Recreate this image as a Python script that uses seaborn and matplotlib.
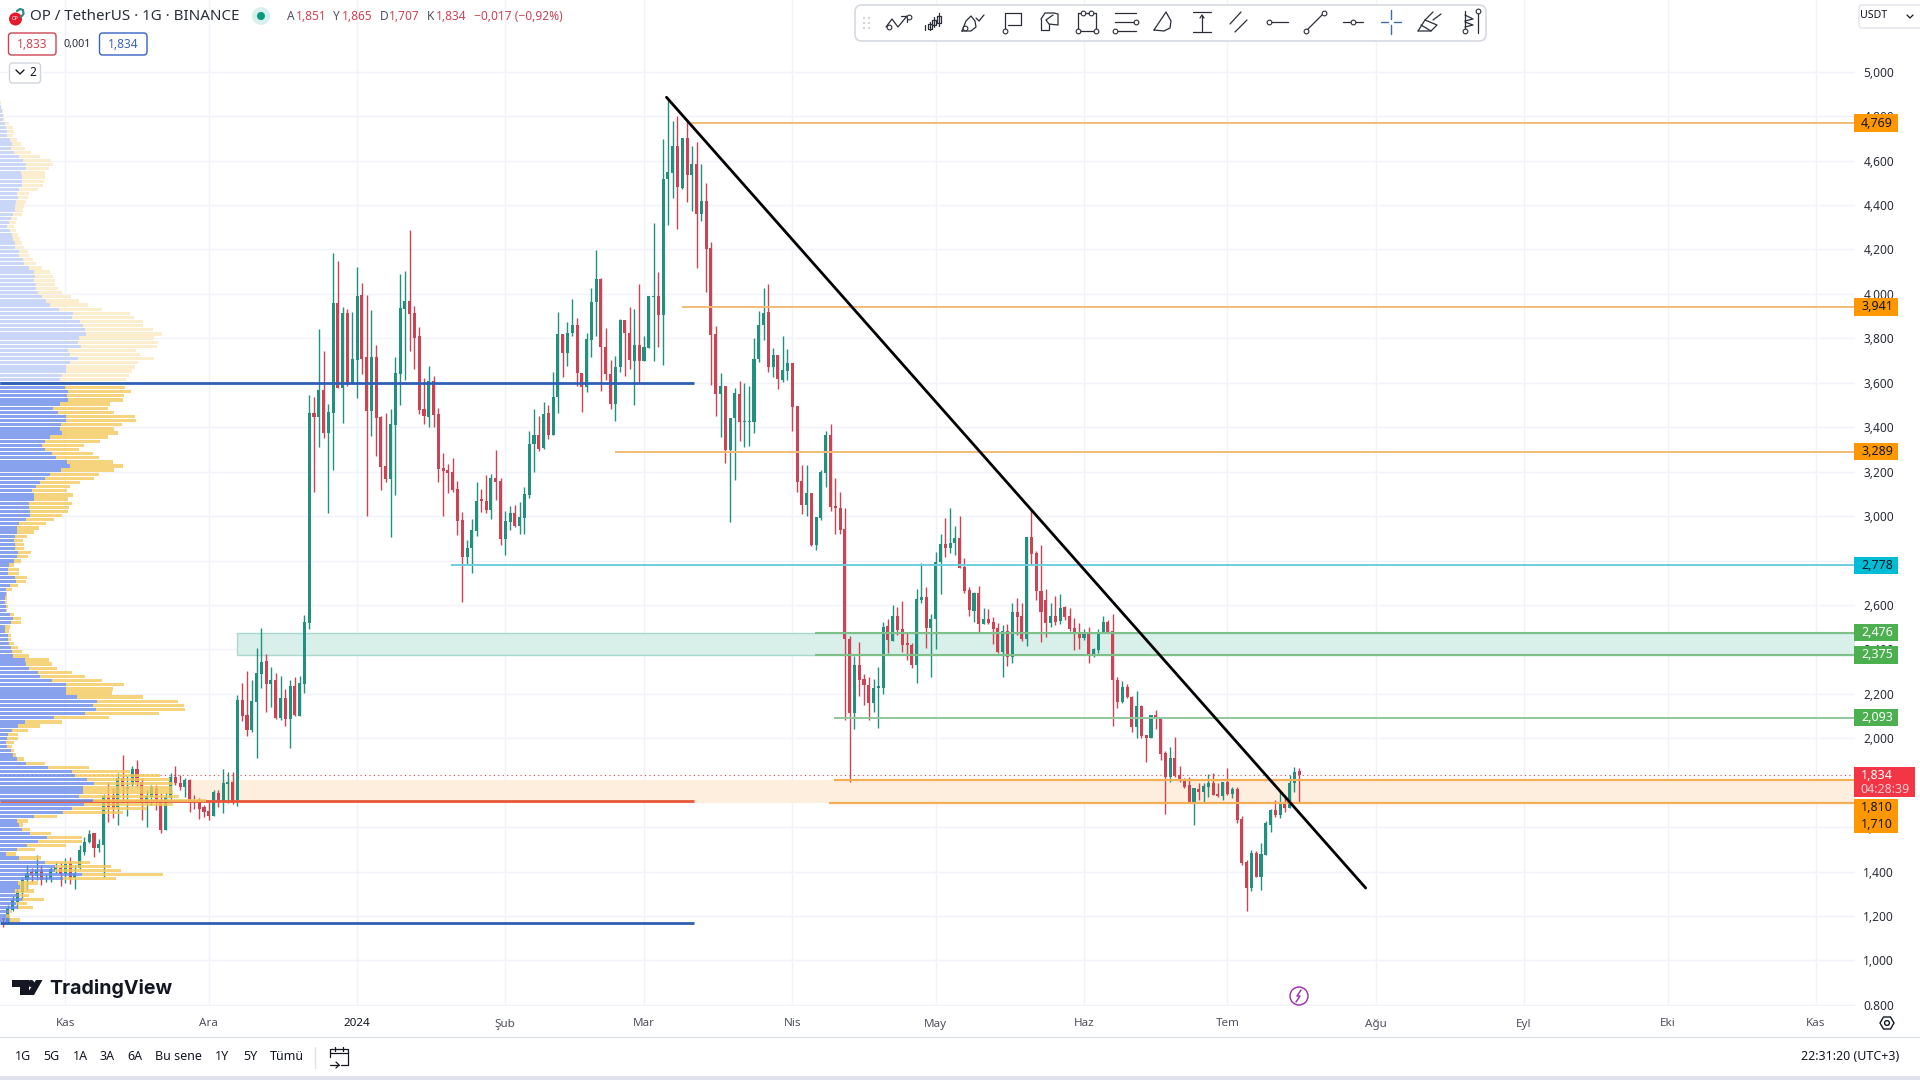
import numpy as np
import pandas as pd
import seaborn as sns
import matplotlib.pyplot as plt
from matplotlib.patches import Rectangle, FancyBboxPatch, Circle, Polygon

# daily candles, day 0 = 1 Nov 2023
days = np.arange(-13, 259)
opens = [
    1.19,1.175,1.227,1.265,1.31,1.36,1.40,1.38,1.408,1.365,
    1.365,1.405,1.415,1.39,1.437,1.37,1.415,1.49,1.532,1.572,
    1.505,1.52,1.737,1.745,1.692,1.82,1.77,1.79,1.86,1.805,
    1.707,1.737,1.775,1.715,1.585,1.73,1.825,1.80,1.78,1.813,
    1.72,1.715,1.69,1.673,1.65,1.755,1.715,1.795,1.805,1.72,
    2.172,2.105,2.037,2.165,2.29,2.348,2.245,2.262,2.09,2.18,
    2.085,2.235,2.102,2.245,2.52,3.465,3.447,3.567,3.372,3.465,
    3.957,3.578,3.912,3.597,3.702,3.995,3.714,3.474,3.717,3.447,
    3.225,3.167,3.41,3.64,3.932,3.968,3.912,3.81,3.482,3.447,
    3.608,3.458,3.215,3.207,3.198,3.12,2.983,2.818,2.855,2.934,
    3.072,3.068,3.027,3.173,3.158,2.897,2.975,3.012,2.955,2.993,
    3.095,3.323,3.365,3.305,3.465,3.365,3.534,3.82,3.732,3.823,
    3.858,3.642,3.58,3.793,3.962,4.065,3.762,3.64,3.505,3.67,
    3.882,3.822,3.70,3.77,3.70,3.755,3.986,3.99,3.905,4.515,
    4.545,4.665,4.478,4.70,4.535,4.585,4.36,4.418,4.205,3.82,
    3.55,3.585,3.297,3.44,3.55,3.424,3.424,3.425,3.705,3.858,
    3.917,3.67,3.725,3.612,3.654,3.69,3.495,3.16,3.05,3.102,
    2.87,2.99,3.195,3.365,3.045,3.035,2.94,2.445,2.115,2.33,
    2.265,2.24,2.16,2.228,2.225,2.505,2.44,2.55,2.49,2.427,
    2.42,2.33,2.622,2.637,2.495,2.535,2.795,2.873,2.858,2.877,
    2.90,2.77,2.667,2.575,2.652,2.514,2.535,2.522,2.495,2.39,
    2.483,2.367,2.567,2.55,2.445,2.904,2.835,2.664,2.622,2.52,
    2.55,2.528,2.59,2.55,2.495,2.475,2.453,2.475,2.375,2.397,
    2.475,2.525,2.483,2.262,2.162,2.23,2.187,2.052,2.147,2.015,
    2.003,2.105,2.094,1.935,1.827,1.91,1.835,1.812,1.79,1.71,
    1.77,1.758,1.78,1.80,1.75,1.738,1.805,1.75,1.77,1.635,
    1.442,1.326,1.485,1.377,1.475,1.61,1.677,1.655,1.71,1.685,1.797,1.851,
]
highs = [
    1.19,1.25,1.29,1.325,1.377,1.43,1.415,1.475,1.43,1.39,
    1.422,1.445,1.445,1.46,1.467,1.43,1.52,1.557,1.585,1.572,
    1.547,1.75,1.805,1.775,1.842,1.925,1.83,1.875,1.90,1.82,
    1.767,1.79,1.79,1.752,1.755,1.845,1.875,1.835,1.82,1.817,
    1.745,1.73,1.70,1.715,1.765,1.767,1.86,1.85,1.85,2.195,
    2.247,2.303,2.26,2.405,2.495,2.38,2.322,2.292,2.28,2.222,
    2.262,2.275,2.28,2.555,3.545,3.537,3.84,3.743,3.505,4.183,
    4.148,3.943,3.93,3.917,4.122,4.048,3.995,3.927,3.768,3.45,
    3.462,3.48,3.714,4.088,4.103,4.288,3.946,3.85,3.62,3.675,
    3.63,3.485,3.283,3.233,3.262,3.158,3.017,2.893,2.985,3.155,
    3.12,3.185,3.19,3.297,3.173,3.025,3.045,3.05,3.062,3.13,
    3.383,3.48,3.45,3.515,3.50,3.65,3.917,3.82,3.872,3.975,
    3.893,3.642,3.823,4.025,4.197,4.073,3.845,3.702,3.72,3.887,
    3.882,3.94,3.93,4.043,3.812,3.99,4.32,4.10,4.695,4.872,
    4.778,4.80,4.70,4.778,4.665,4.685,4.585,4.498,4.235,3.856,
    3.642,3.585,3.44,3.575,3.608,3.597,3.585,3.80,3.925,4.025,
    4.043,3.755,3.725,3.81,3.75,3.69,3.495,3.23,3.23,3.102,
    2.997,3.207,3.385,3.413,3.17,3.11,3.035,2.46,2.368,2.435,
    2.29,2.275,2.265,2.32,2.525,2.535,2.60,2.592,2.62,2.472,
    2.43,2.67,2.787,2.68,2.558,2.84,2.918,2.99,3.038,2.955,
    3.0,2.81,2.68,2.66,2.685,2.585,2.58,2.547,2.517,2.51,
    2.513,2.607,2.63,2.607,2.907,3.027,2.844,2.87,2.67,2.607,
    2.64,2.65,2.595,2.588,2.54,2.517,2.49,2.50,2.405,2.49,
    2.55,2.532,2.558,2.277,2.258,2.244,2.19,2.213,2.15,2.015,
    2.105,2.127,2.097,1.943,1.96,2.004,1.875,1.82,1.824,1.775,
    1.797,1.797,1.838,1.842,1.797,1.805,1.865,1.782,1.78,1.65,
    1.452,1.497,1.493,1.527,1.628,1.68,1.722,1.76,1.745,1.835,1.87,1.865,
]
lows = [
    1.152,1.168,1.224,1.235,1.272,1.317,1.355,1.362,1.34,1.355,
    1.355,1.392,1.337,1.347,1.343,1.32,1.41,1.475,1.527,1.467,
    1.49,1.377,1.625,1.64,1.61,1.707,1.65,1.785,1.782,1.632,
    1.602,1.70,1.677,1.572,1.585,1.722,1.79,1.765,1.737,1.67,
    1.68,1.638,1.647,1.63,1.65,1.692,1.665,1.707,1.703,1.695,
    2.078,2.012,2.03,1.913,2.228,2.118,2.142,2.087,2.082,2.055,
    1.955,2.10,2.10,2.205,2.49,3.11,3.312,3.353,3.012,3.207,
    3.575,3.42,3.587,3.594,3.533,3.64,3.002,3.36,3.27,3.117,
    3.155,2.907,3.095,3.50,3.612,3.743,3.662,3.46,3.414,3.402,
    3.402,3.155,3.002,3.105,3.11,2.915,2.615,2.783,2.745,2.91,
    3.02,3.012,2.987,3.072,2.87,2.825,2.937,2.952,2.92,2.92,
    3.083,3.20,3.295,3.30,3.345,3.365,3.462,3.627,3.677,3.81,
    3.585,3.467,3.557,3.717,3.81,3.565,3.612,3.482,3.43,3.65,
    3.63,3.66,3.50,3.605,3.70,3.755,3.70,3.762,3.68,4.31,
    4.43,4.292,4.472,4.415,4.375,4.118,4.33,4.01,3.59,3.45,
    3.357,3.24,2.975,3.162,3.34,3.31,3.315,3.372,3.695,3.792,
    3.65,3.625,3.57,3.605,3.612,3.385,3.11,3.01,3.0,2.865,
    2.847,2.982,3.132,3.025,2.92,2.92,2.082,1.805,2.04,2.19,
    2.15,2.08,2.12,2.045,2.20,2.382,2.44,2.465,2.39,2.35,
    2.315,2.247,2.607,2.405,2.277,2.40,2.65,2.815,2.832,2.825,
    2.765,2.655,2.55,2.525,2.48,2.514,2.514,2.424,2.385,2.277,
    2.325,2.34,2.465,2.44,2.417,2.78,2.622,2.435,2.457,2.50,
    2.51,2.515,2.532,2.484,2.397,2.40,2.442,2.34,2.365,2.385,
    2.475,2.475,2.057,2.138,2.16,2.18,2.03,2.003,2.003,1.895,
    2.0,2.04,1.90,1.66,1.805,1.827,1.805,1.778,1.707,1.61,
    1.722,1.71,1.735,1.745,1.735,1.722,1.745,1.73,1.617,1.43,
    1.224,1.314,1.374,1.317,1.475,1.58,1.644,1.64,1.67,1.685,1.76,1.707,
]
closes = [
    1.18,1.235,1.272,1.314,1.362,1.395,1.385,1.408,1.362,1.37,
    1.41,1.42,1.39,1.435,1.37,1.392,1.497,1.535,1.57,1.505,
    1.525,1.74,1.692,1.688,1.82,1.785,1.78,1.86,1.805,1.707,
    1.74,1.782,1.715,1.587,1.735,1.825,1.80,1.782,1.81,1.722,
    1.71,1.683,1.67,1.65,1.76,1.715,1.80,1.805,1.707,2.172,
    2.102,2.037,2.168,2.292,2.345,2.245,2.262,2.09,2.18,2.085,
    2.235,2.105,2.25,2.522,3.465,3.447,3.567,3.372,3.467,3.957,
    3.575,3.912,3.597,3.705,3.99,3.707,3.474,3.717,3.443,3.222,
    3.167,3.414,3.642,3.935,3.968,3.91,3.803,3.477,3.45,3.608,
    3.455,3.213,3.205,3.195,3.117,2.98,2.818,2.855,2.937,3.068,
    3.07,3.027,3.173,3.155,2.897,2.978,3.012,2.955,2.994,3.10,
    3.325,3.365,3.30,3.459,3.365,3.534,3.82,3.732,3.823,3.858,
    3.642,3.58,3.795,3.962,4.065,3.762,3.64,3.505,3.67,3.882,
    3.822,3.702,3.77,3.70,3.762,3.99,3.988,3.905,4.517,4.55,
    4.665,4.482,4.70,4.535,4.585,4.36,4.418,4.202,3.815,3.55,
    3.585,3.297,3.44,3.555,3.425,3.427,3.427,3.705,3.858,3.912,
    3.67,3.725,3.615,3.657,3.687,3.492,3.155,3.05,3.102,2.87,
    2.995,3.197,3.365,3.042,3.035,2.937,2.445,2.115,2.33,2.262,
    2.24,2.16,2.225,2.23,2.50,2.442,2.55,2.487,2.42,2.42,
    2.33,2.627,2.634,2.495,2.535,2.795,2.873,2.858,2.877,2.90,
    2.765,2.664,2.577,2.652,2.514,2.535,2.517,2.49,2.39,2.483,
    2.367,2.567,2.545,2.445,2.904,2.83,2.664,2.57,2.52,2.55,
    2.525,2.585,2.547,2.49,2.475,2.453,2.475,2.375,2.402,2.48,
    2.522,2.48,2.26,2.165,2.23,2.184,2.052,2.145,2.01,2.003,
    2.105,2.09,1.93,1.827,1.91,1.83,1.81,1.782,1.71,1.775,
    1.758,1.785,1.80,1.745,1.738,1.805,1.75,1.77,1.632,1.437,
    1.326,1.482,1.377,1.48,1.62,1.677,1.655,1.707,1.685,1.797,1.848,1.834,
]

# volume profile rows, top to bottom (up volume and total volume)
vp_up = [
    0,2,7,8,10,15,18,20,22,30,36,34,42,58,70,78,78,63,66,66,66,57,52,54,48,46,44,39,33,28,22,30,36,39,45,45,57,57,
    70,72,87,102,105,102,108,108,114,127,138,150,177,219,216,240,249,255,258,237,234,243,204,210,234,210,198,198,186,180,
    183,195,204,200,204,180,159,174,198,198,183,180,186,150,135,126,135,156,168,201,210,183,150,135,120,108,96,102,102,87,87,90,90,78,57,51,51,45,42,
    45,45,54,51,42,27,24,24,45,48,30,18,18,16,15,17,18,30,39,33,15,15,24,24,28,33,36,39,75,78,87,114,120,156,198,198,198,231,291,279,
    288,255,162,75,54,36,24,21,18,21,33,39,51,78,144,216,225,261,282,249,249,238,279,252,216,189,102,51,57,66,90,141,114,81,51,18,57,135,165,165,
    246,190,55,60,45,57,66,48,54,27,18,30,
]
vp_total = [
    3,4,9,12,14,27,40,42,40,50,62,75,93,120,153,158,148,135,135,132,130,114,87,84,78,72,70,65,52,47,42,48,54,60,66,71,85,87,
    100,107,127,150,158,165,165,173,185,213,238,264,305,390,402,430,430,458,486,462,474,470,408,420,462,415,405,396,387,378,
    360,375,393,372,369,330,324,342,405,408,366,342,354,324,300,252,238,279,297,339,369,342,297,282,240,210,201,219,204,216,207,204,186,162,138,117,102,81,70,
    72,72,93,84,63,42,57,57,81,78,54,36,20,20,22,23,22,42,63,63,30,27,33,33,42,54,66,87,147,156,171,216,255,306,372,339,337,429,534,552,
    555,477,327,186,120,84,54,54,42,36,42,48,72,135,267,390,480,510,520,515,520,537,618,520,440,370,171,84,69,90,153,246,246,198,105,48,123,270,333,363,
    489,348,114,84,102,87,132,81,99,36,30,60,
]
vp_top_price = 4.86
vp_bottom_price = 1.182
va_high = 3.61

# axis ticks
price_ticks = [0.8,1.0,1.2,1.4,1.6,1.8,2.0,2.2,2.4,2.6,2.8,3.0,3.2,3.4,3.6,3.8,4.0,4.2,4.4,4.6,4.8,5.0]
price_labels = ['0.800','1,000','1,200','1,400','1,600','1,800','2,000','2,200','2,400','2,600','2,800',
                '3,000','3,200','3,400','3,600','3,800','4,000','4,200','4,400','4,600','4,800','5,000']
month_days = [0,30,61,92,121,152,182,213,243,274,305,335,366]
month_labels = ['Kas','Ara','2024','Şub','Mar','Nis','May','Haz','Tem','Ağu','Eyl','Eki','Kas']

# drawn levels: price, first day, colour
level_prices = [4.769,3.941,3.289,2.778,2.093]
level_starts = [130.8,128.9,115.0,80.6,160.7]
level_colors = ['#f3bb74','#f3bb74','#f3bb74','#6ccfdb','#93c79b']
trend_days = [125.7,271.9]
trend_prices = [4.885,1.326]
last_price = 1.834

GREEN = '#21907f'
RED = '#cc4454'

sns.set_theme(style='white')
plt.rcParams['font.family'] = ['Noto Sans', 'DejaVu Sans']

fig = plt.figure(figsize=(19.2, 10.8), dpi=100, facecolor='white')
ax = fig.add_axes([0, 74/1080, 1855/1920, 1006/1080])
ax.set_xlim(-13.65, 374.2)
ax.set_ylim(0.795, 5.3227)
sns.despine(ax=ax, left=True, bottom=True, right=True, top=True)

ax.set_xticks(month_days, month_labels)
ax.set_yticks(price_ticks, price_labels)
ax.yaxis.tick_right()
ax.grid(True, color='#f0f3fa', linewidth=1)
ax.set_axisbelow(True)
ax.tick_params(axis='x', length=0, pad=9, labelsize=8.4, labelcolor='#50535e')
ax.tick_params(axis='y', length=0, pad=6, labelsize=8.6, labelcolor='#2a2e39')
ax.get_xticklabels()[2].set_color('#131722')

# zones
ax.axhspan(2.375, 2.476, xmin=(35.9+13.65)/387.85, facecolor='#d9efea', edgecolor='#a8d8ce', linewidth=1, zorder=1)
ax.axhspan(1.71, 1.81, xmin=(26+13.65)/387.85, facecolor='#fdeedd', edgecolor='none', zorder=1)

# candles
df = pd.DataFrame({'day': days, 'o': opens, 'h': highs, 'l': lows, 'c': closes})
df['color'] = np.where(df['c'] >= df['o'], GREEN, RED)
ax.vlines(df['day'], df['l'], df['h'], colors=df['color'], linewidth=1, zorder=3)
ax.bar(df['day'], np.maximum((df['c'] - df['o']).abs(), 0.006), bottom=df[['o', 'c']].min(axis=1),
       width=0.64, color=df['color'], linewidth=0, zorder=3)

# levels over the candles
ax.hlines(level_prices, level_starts, 374.2, colors=level_colors, linewidth=1.4, zorder=4)
ax.hlines([2.476, 2.375], 156.8, 374.2, colors='#7fc08a', linewidth=1.5, zorder=4)
ax.hlines(1.81, 160.7, 374.2, colors='#f5ae58', linewidth=1.6, zorder=4)
ax.hlines(1.71, 159.7, 374.2, colors='#f5ae58', linewidth=1.6, zorder=4)
ax.hlines(1.717, -13.65, 131.4, colors='#e8563a', linewidth=2, zorder=4)
ax.hlines(last_price, -13.65, 374.2, colors='#cc4454', linewidth=0.8, linestyles=(0, (1, 3)), zorder=4)
sns.lineplot(x=trend_days, y=trend_prices, ax=ax, color='black', linewidth=2, zorder=5)

# volume profile on its own x scale
ax_vp = ax.twiny()
sns.despine(ax=ax_vp, left=True, bottom=True, right=True, top=True)
ax_vp.xaxis.set_visible(False)
vp = pd.DataFrame({'up': vp_up, 'total': vp_total})
vp['down'] = vp['total'] - vp['up']
vp['price'] = np.linspace(vp_top_price, vp_bottom_price, len(vp))
# seaborn draws a native scale in ascending order, so the offsets must be in that order too
vp = vp.sort_values('price')
outer = vp[vp['price'] >= va_high]
inner = vp[vp['price'] < va_high]
for rows, blue, yellow, a in [(outer, '#c6d4f8', '#fbeccb', 0.95), (inner, '#6a8bea', '#f4c95d', 0.8)]:
    sns.barplot(data=rows, x='up', y='price', orient='h', native_scale=True, errorbar=None, ax=ax_vp,
                color=blue, saturation=1, alpha=a, linewidth=0)
    sns.barplot(data=rows, x='down', y='price', orient='h', native_scale=True, errorbar=None, ax=ax_vp,
                color=yellow, saturation=1, alpha=a, linewidth=0, left=rows['up'].values)
ax_vp.set_xlim(0, 1855*3)
ax_vp.set_ylim(0.795, 5.3227)
ax_vp.hlines([3.6, 1.169], 0, 694*3, colors='#2f5fb5', linewidth=2, zorder=6)

# price tags on the scale, placed by price on the shared y axis
tr = ax_vp.get_yaxis_transform()
def tag(price, label, color, text_color, wide=False, height=0.0775):
    w = (61 if wide else 44) / 1855
    ax_vp.add_patch(Rectangle((1 - 1/1855, price - height/2), w, height, transform=tr,
                              facecolor=color, edgecolor='none', clip_on=False, zorder=10))
    ax_vp.text(1 + 22/1855, price, label, transform=tr, ha='center', va='center', fontsize=9,
               color=text_color, clip_on=False, zorder=11)

tag(4.769, '4,769', '#ff9800', '#131722')
tag(3.941, '3,941', '#ff9800', '#131722')
tag(3.289, '3,289', '#ff9800', '#131722')
tag(2.778, '2,778', '#00bcd4', '#131722')
tag(2.476, '2,476', '#4caf50', 'white')
tag(2.375, '2,375', '#4caf50', 'white')
tag(2.093, '2,093', '#4caf50', 'white')
tag(1.834 - 0.03, '', '#f23645', 'white', wide=True, height=0.137)
ax_vp.text(1 + 22/1855, 1.834, '1,834', transform=tr, ha='center', va='center', fontsize=9, color='white', clip_on=False, zorder=11)
ax_vp.text(1 + 30/1855, 1.771, '04:28:39', transform=tr, ha='center', va='center', fontsize=9, color='#ffc9cf', clip_on=False, zorder=11)
tag(1.650, '', '#ff9800', '#131722', height=0.153)
ax_vp.text(1 + 22/1855, 1.689, '1,810', transform=tr, ha='center', va='center', fontsize=9, color='#131722', clip_on=False, zorder=11)
ax_vp.text(1 + 22/1855, 1.612, '1,710', transform=tr, ha='center', va='center', fontsize=9, color='#131722', clip_on=False, zorder=11)

# screen furniture, in pixels
top = fig.add_axes([0, 0, 1, 1], zorder=20)
top.set_xlim(0, 1920)
top.set_ylim(1080, 0)
top.axis('off')
top.patch.set_alpha(0)

def label(x, y, s, size=8.6, color='#131722', ha='left', **kw):
    top.text(x, y, s, fontsize=size, color=color, ha=ha, va='center', **kw)

def box(x0, y0, x1, y1, fc='white', ec='#e0e3eb', lw=1, r=3, z=1):
    top.add_patch(FancyBboxPatch((x0, y0), x1-x0, y1-y0, boxstyle=f'round,pad=0,rounding_size={r}',
                                 facecolor=fc, edgecolor=ec, linewidth=lw, zorder=z))

# header
top.add_patch(Circle((15.5, 19), 6.5, facecolor='#e8192c', edgecolor='none'))
label(15.5, 19, 'OP', size=3.6, color='white', ha='center', fontweight='bold')
top.plot([17, 20, 23, 23.5, 21], [11, 9, 10, 14, 17], color='#2b8f85', linewidth=1.6)
label(30, 16, 'OP / TetherUS · 1G · BINANCE', size=10.9, color='#2a2e39')
top.add_patch(Circle((261, 16), 9, facecolor='#d8f0ec', edgecolor='none'))
top.add_patch(Circle((261, 16), 4, facecolor='#089981', edgecolor='none'))
for x, s, c in [(287,'A','#50535e'),(296,'1,851','#cc4454'),(333,'Y','#50535e'),(342,'1,865','#cc4454'),
                (380,'D','#50535e'),(389,'1,707','#cc4454'),(427,'K','#50535e'),(436,'1,834','#cc4454'),
                (474,'−0,017 (−0,92%)','#cc4454')]:
    label(x, 16, s, size=8.6, color=c)
box(8.5, 33, 56, 55, ec='#cc4454')
label(32, 44, '1,833', size=8.6, color='#cc4454', ha='center')
label(77.5, 44, '0,001', size=7.8, color='#2a2e39', ha='center')
box(99.5, 33, 147, 55, ec='#3a62c4')
label(123, 44, '1,834', size=8.6, color='#3a62c4', ha='center')
box(9.5, 63, 40.5, 83, ec='#d1d4dc')
top.plot([16, 20, 24], [70, 74, 70], color='#131722', linewidth=1)
label(29, 73, '2', size=8.6, color='#131722')

# drawing toolbar
box(855, 5, 1486, 41, ec='#d6d9e0', lw=1.2, r=7, z=5)
for dx in (863, 868):
    for dy in (17, 22, 27):
        top.add_patch(Rectangle((dx, dy), 2, 2, facecolor='#d1d4dc', edgecolor='none', zorder=6))
icons = [
    (897, [[(-11,5),(-5,-3),(1,5),(10,-6)],[(4,-6),(10,-6),(10,0)]]),
    (934, [[(-9,3),(-9,8)],[(-4,0),(-4,8)],[(0,-5),(0,5)],[(5,-9),(5,4)],[(-6,2),(-2,2),(-2,7),(-6,7),(-6,2)],[(-2,-2),(2,-2),(2,3),(-2,3),(-2,-2)],[(3,-6),(7,-6),(7,1),(3,1),(3,-6)]]),
    (973, [[(-11,9),(-7,-1),(-2,-6),(2,-1),(3,5),(-2,9),(-11,9)],[(3,-4),(6,-1),(11,-7)]]),
    (1012, [[(-7,9),(-7,-9),(9,-9),(9,3),(-4,3)]]),
    (1049, [[(-8,-3),(-4,-9),(5,-9),(9,-8),(9,3),(0,2),(-3,-2),(4,-7)],[(-8,-3),(-8,8),(0,8),(0,2)]]),
    (1087, [[(-9,-9),(9,-9),(9,9),(-9,9),(-9,-9)]]),
    (1125, [[(-10,-9),(11,-9)],[(-10,0),(11,0)],[(-10,9),(11,9)]]),
    (1164, [[(-10,8),(2,-10),(7,-1),(6,6),(0,9),(-10,8)]]),
    (1202, [[(-9,-10),(9,-10)],[(-9,10),(9,10)],[(0,9),(0,-6)],[(-2,-4),(0,-7),(2,-4)]]),
    (1239, [[(-9,2),(2,-10)],[(-4,10),(8,-2)]]),
    (1277, [[(-8,0),(11,0)]]),
    (1315, [[(-9,9),(9,-9)]]),
    (1353, [[(-10,0),(10,0)]]),
    (1429, [[(-11,9),(-4,-2),(4,-10)],[(-4,-2),(8,3),(2,9),(-11,9)],[(-8,3),(2,9)],[(4,-2),(12,-8)]]),
    (1468, [[(-3,-11),(-3,11)],[(-3,-7),(5,-3),(-3,-1)],[(-3,0),(5,3),(-3,5)]]),
    (1478, [[(0,-11),(0,11)]]),
]
for cx, lines in icons:
    for pts in lines:
        top.plot([cx+p[0] for p in pts], [22+p[1] for p in pts], color='#2a2e39', linewidth=0.9, zorder=6)
for cx, cy in [(889,27),(909,17),(965,28),(1005,31),(1083,13),(1091,13),(1078,31),(1096,31),(1136,22),(1115,31),(1269,22),(1306,31),(1324,13),(1353,22),(1465,31),(1478,11)]:
    top.plot(cx, cy, 'o', markersize=3.4, markerfacecolor='white', markeredgecolor='#2a2e39', markeredgewidth=0.8, zorder=7)
top.plot([1391, 1391], [10, 19], color='#3a6ea5', linewidth=1, zorder=6)
top.plot([1391, 1391], [25, 34], color='#3a6ea5', linewidth=1, zorder=6)
top.plot([1381, 1388], [22, 22], color='#3a6ea5', linewidth=1, zorder=6)
top.plot([1394, 1401], [22, 22], color='#3a6ea5', linewidth=1, zorder=6)

# scale currency
box(1859, 5, 1925, 28, ec='#e0e3eb')
top.text(1860, 16, 'USDT', fontsize=7.6, color='#131722', ha='left', va='center', zorder=3)
top.plot([1907, 1910, 1913], [15, 18, 15], color='#131722', linewidth=0.9, zorder=3)

# TradingView mark
top.add_patch(Polygon([(12,980),(29,980),(29,995),(20,995),(20,987),(12,987)], facecolor='#131722', edgecolor='none'))
top.add_patch(Circle((31, 983.5), 3.5, facecolor='#131722', edgecolor='none'))
top.add_patch(Polygon([(36,980),(42.5,980),(34,995),(26,995)], facecolor='#131722', edgecolor='none'))
label(49, 988, 'TradingView', size=14.1, color='#131722', fontfamily='Inter', fontweight='bold')

# lightning badge
top.add_patch(Circle((1299, 996), 9, facecolor='white', edgecolor='#9c27b0', linewidth=1))
top.plot([1301, 1297, 1300, 1296], [990, 996, 996, 1002], color='#9c27b0', linewidth=1)

# gear
top.add_patch(Polygon([(1880,1023),(1883.5,1017),(1890.5,1017),(1894,1023),(1890.5,1029),(1883.5,1029)], facecolor='none', edgecolor='#131722', linewidth=1))
top.add_patch(Circle((1887, 1023), 2.4, facecolor='none', edgecolor='#131722', linewidth=1))

# bottom bar
top.plot([0, 1920], [1037, 1037], color='#e0e3eb', linewidth=1)
top.add_patch(Rectangle((0, 1076), 1920, 4, facecolor='#e0e3eb', edgecolor='none'))
for x, s in [(14.5,'1G'),(43,'5G'),(73,'1A'),(100,'3A'),(127,'6A'),(155,'Bu sene'),(215,'1Y'),(243,'5Y'),(270,'Tümü')]:
    label(x, 1057, s, size=9, color='#131722')
top.plot([315, 315], [1047, 1068], color='#e0e3eb', linewidth=1)
top.plot([330, 330, 348, 348, 341], [1057, 1049, 1049, 1065, 1065], color='#131722', linewidth=0.9)
top.plot([330, 348], [1053, 1053], color='#131722', linewidth=0.9)
top.plot([335, 335], [1047, 1051], color='#131722', linewidth=0.9)
top.plot([343, 343], [1047, 1051], color='#131722', linewidth=0.9)
top.plot([330, 339], [1065, 1065], color='#131722', linewidth=0.9)
top.plot([336, 339, 336], [1062, 1065, 1068], color='#131722', linewidth=0.9)
label(1801, 1057, '22:31:20 (UTC+3)', size=9, color='#131722')

fig.savefig('out.png', dpi=100)
